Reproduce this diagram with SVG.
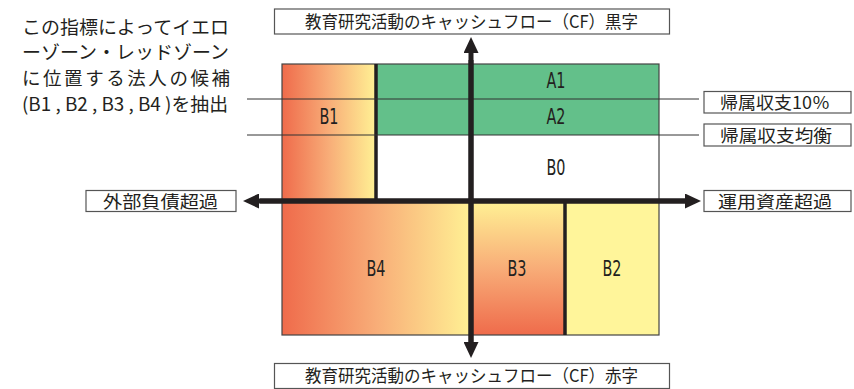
<svg xmlns="http://www.w3.org/2000/svg" width="854" height="389" viewBox="0 0 854 389">
<defs>
<linearGradient id="gH" x1="0" y1="0" x2="1" y2="0">
<stop offset="0" stop-color="#ef6b4b"/>
<stop offset="0.5" stop-color="#f8ad78"/>
<stop offset="1" stop-color="#fff194"/>
</linearGradient>
<linearGradient id="gV" x1="0" y1="0" x2="0" y2="1">
<stop offset="0" stop-color="#fff194"/>
<stop offset="0.5" stop-color="#f8ad78"/>
<stop offset="1" stop-color="#ef6b4b"/>
</linearGradient>
<marker id="ah" viewBox="0 0 16 15" refX="0" refY="7.5" markerWidth="16" markerHeight="15" markerUnits="userSpaceOnUse" orient="auto">
<path d="M0,0 L16,7.5 L0,15 Z" fill="#231f20"/>
</marker>
</defs>
<style>
.jp{font-family:"Noto Sans CJK JP","Noto Sans",sans-serif;fill:#231f20}
.lb{font-family:"Liberation Sans Narrow","DejaVu Sans Condensed","Liberation Sans",sans-serif;font-size:21px;fill:#231f20;text-anchor:middle;dominant-baseline:central}
.box{fill:#fff;stroke:#555;stroke-width:1.2}
.thin{stroke:#333;stroke-width:1}
.axis{stroke:#231f20;stroke-width:5;fill:none}
.div{stroke:#231f20;stroke-width:3.5}
</style>

<g id="note">
<text class="jp" font-size="18.5" x="22" y="34" textLength="207" lengthAdjust="spacingAndGlyphs">この指標によってイエロ</text>
<text class="jp" font-size="18.5" x="22" y="59" textLength="207" lengthAdjust="spacingAndGlyphs">ーゾーン・レッドゾーン</text>
<text class="jp" font-size="18.5" x="22" y="85" textLength="208" lengthAdjust="spacing">に位置する法人の候補</text>
<text class="jp" font-size="18.5" x="22" y="111" textLength="206" lengthAdjust="spacingAndGlyphs">(B1 , B2 , B3 , B4 )を抽出</text>
</g>

<g id="zones">
<rect id="B1" x="282" y="64" width="94" height="137" fill="url(#gH)"/>
<rect id="A1" x="376" y="64" width="283" height="35" fill="#63c08a"/>
<rect id="A2" x="376" y="99" width="283" height="36" fill="#63c08a"/>
<rect id="B0" x="376" y="135" width="283" height="66" fill="#fff"/>
<rect id="B4" x="282" y="201" width="189" height="134" fill="url(#gH)"/>
<rect id="B3" x="471" y="201" width="94" height="134" fill="url(#gV)"/>
<rect id="B2" x="565" y="201" width="94" height="134" fill="#fff59a"/>
<rect x="282" y="64" width="377" height="271" fill="none" stroke="#444" stroke-width="1.2"/>
<line class="div" x1="376" y1="64" x2="376" y2="201"/>
<line class="div" x1="565" y1="201" x2="565" y2="335"/>
<text class="lb" x="556" y="81" textLength="19" lengthAdjust="spacingAndGlyphs">A1</text>
<text class="lb" x="556" y="117" textLength="19" lengthAdjust="spacingAndGlyphs">A2</text>
<text class="lb" x="556" y="168" textLength="19" lengthAdjust="spacingAndGlyphs">B0</text>
<text class="lb" x="329" y="117" textLength="19" lengthAdjust="spacingAndGlyphs">B1</text>
<text class="lb" x="376" y="269" textLength="19" lengthAdjust="spacingAndGlyphs">B4</text>
<text class="lb" x="517" y="269" textLength="19" lengthAdjust="spacingAndGlyphs">B3</text>
<text class="lb" x="612" y="269" textLength="19" lengthAdjust="spacingAndGlyphs">B2</text>
</g>

<g id="connectors">
<line class="thin" x1="247" y1="99" x2="699" y2="99"/>
<line class="thin" x1="247" y1="135" x2="699" y2="135"/>
<line class="axis" x1="471" y1="343" x2="471" y2="53" marker-end="url(#ah)"/>
<line class="axis" x1="471" y1="60" x2="471" y2="342" marker-end="url(#ah)"/>
<line class="axis" x1="690" y1="201" x2="259" y2="201" marker-end="url(#ah)"/>
<line class="axis" x1="260" y1="201" x2="685" y2="201" marker-end="url(#ah)"/>
</g>

<g id="top-label">
<rect class="box" x="274.5" y="9" width="395" height="25"/>
<text class="jp" font-size="17.5" x="305" y="27.5" textLength="333" lengthAdjust="spacingAndGlyphs">教育研究活動のキャッシュフロー（CF）黒字</text>
</g>
<g id="bottom-label">
<rect class="box" x="274.5" y="363.5" width="395" height="25"/>
<text class="jp" font-size="17.5" x="305" y="382" textLength="333" lengthAdjust="spacingAndGlyphs">教育研究活動のキャッシュフロー（CF）赤字</text>
</g>
<g id="left-label">
<rect class="box" x="86" y="190.5" width="150" height="21"/>
<text class="jp" font-size="17.5" x="103" y="207.5" textLength="115" lengthAdjust="spacingAndGlyphs">外部負債超過</text>
</g>
<g id="right-label">
<rect class="box" x="704" y="190.5" width="147" height="21"/>
<text class="jp" font-size="17.5" x="718" y="207.5" textLength="114" lengthAdjust="spacingAndGlyphs">運用資産超過</text>
</g>
<g id="label-10">
<rect class="box" x="704" y="91.5" width="147" height="21.5"/>
<text class="jp" font-size="17.5" x="720" y="108.5" textLength="110" lengthAdjust="spacingAndGlyphs">帰属収支10％</text>
</g>
<g id="label-eq">
<rect class="box" x="704" y="124" width="147" height="22"/>
<text class="jp" font-size="17.5" x="720" y="141.5" textLength="112" lengthAdjust="spacingAndGlyphs">帰属収支均衡</text>
</g>
</svg>
